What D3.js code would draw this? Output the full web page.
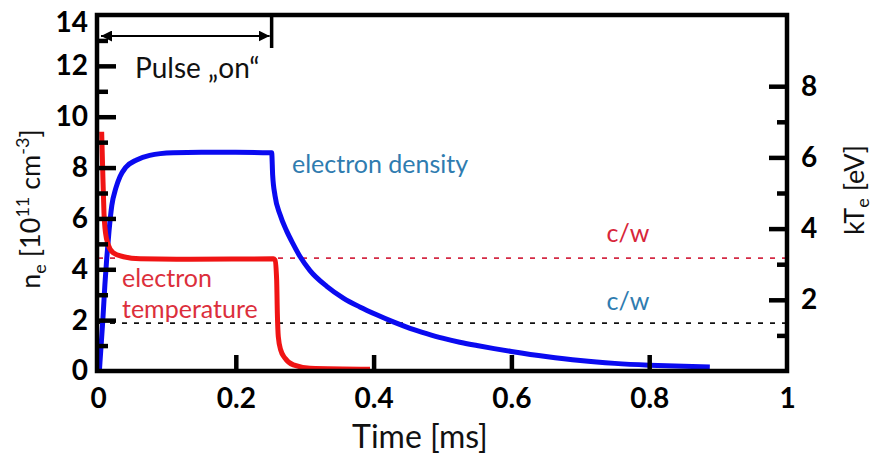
<!DOCTYPE html>
<html><head><meta charset="utf-8">
<script src="https://cdn.jsdelivr.net/npm/d3@7"></script>
<style>
html,body{margin:0;padding:0;background:#fff;}
svg{display:block;font-family:Lato,"Open Sans",sans-serif;}
</style></head>
<body>
<svg id="chart" width="877" height="459"></svg>
<script>
// ---- data ----
const densityTime = [0.002,0.004,0.007,0.010,0.0126,0.016,0.020,0.026,0.032,0.040,0.056,0.075,0.109,0.15,0.2,0.2521,0.2535,0.2569,0.2642,0.2739,0.2835,0.2932,0.3077,0.332,0.356,0.380,0.4045,0.4286,0.4528,0.477,0.5,0.525,0.55,0.575,0.6,0.65,0.7,0.75,0.8,0.85,0.888];
const densityValues = [0.0,0.8,2.0,3.4,4.4,5.5,6.5,7.2,7.65,8.0,8.3,8.48,8.58,8.6,8.6,8.58,7.7,6.9,6.15,5.5,4.98,4.5,3.95,3.33,2.87,2.52,2.21,1.93,1.68,1.47,1.29,1.13,1.0,0.88,0.77,0.57,0.41,0.3,0.23,0.185,0.16];
const tempTime = [0.0053,0.0068,0.0087,0.011,0.015,0.022,0.037,0.061,0.134,0.2545,0.2569,0.2593,0.2603,0.2617,0.2652,0.2714,0.2835,0.3077,0.3948];
const tempValues = [6.72,5.65,4.43,3.87,3.54,3.32,3.21,3.15,3.14,3.15,3.12,2.56,1.62,0.96,0.59,0.36,0.17,0.08,0.05];
const cwTemperature = 3.17;   // eV (right axis)
const cwDensity = 1.88;       // 1e11 cm^-3 (left axis)
const pulseOn = [0, 0.252];
const xTicks = [0,0.2,0.4,0.6,0.8,1];
const xTickLabels = ["0","0.2","0.4","0.6","0.8","1"];
const leftTicks = [0,2,4,6,8,10,12,14];
const leftMinor = [1,3,5,7,9,11,13];
const rightTicks = [2,4,6,8];
const rightMinor = [1,3,5,7];

// ---- layout ----
const svg = d3.select("#chart");
const L = 98, R = 787, T = 15, B = 371;
const x = d3.scaleLinear().domain([0,1]).range([L,R]);
const yL = d3.scaleLinear().domain([0,14]).range([B,T]);
const yR = d3.scaleLinear().domain([0,10]).range([B,T]);

const blue = "#0a0af0", red = "#f01414";

// dashed c/w lines
svg.append("line").attr("x1",L).attr("x2",R).attr("y1",yR(cwTemperature)).attr("y2",yR(cwTemperature))
  .attr("stroke","#d42a44").attr("stroke-width",1.8).attr("stroke-dasharray","5,7");
svg.append("line").attr("x1",L).attr("x2",R).attr("y1",yL(cwDensity)).attr("y2",yL(cwDensity))
  .attr("stroke","#111").attr("stroke-width",1.8).attr("stroke-dasharray","5,7");

// curves
const lineD = d3.line().x((d,i)=>x(densityTime[i])).y(d=>yL(d)).curve(d3.curveMonotoneX);
const lineT = d3.line().x((d,i)=>x(tempTime[i])).y(d=>yR(d)).curve(d3.curveMonotoneX);
svg.append("path").attr("d",lineD(densityValues)).attr("fill","none").attr("stroke",blue).attr("stroke-width",5).attr("stroke-linejoin","round");
svg.append("path").attr("d",lineT(tempValues)).attr("fill","none").attr("stroke",red).attr("stroke-width",5).attr("stroke-linejoin","round");

// axes (ticks inward)
const tickFont = "700 28px Lato, 'Open Sans', sans-serif";
const gL = svg.append("g").attr("transform",`translate(${L},0)`)
  .call(d3.axisRight(yL).tickValues(leftTicks).tickSize(18).tickFormat(d3.format("d")));
gL.selectAll(".tick line").attr("stroke","#000").attr("stroke-width",4.5);
gL.selectAll(".tick text").attr("x",-10).attr("text-anchor","end").style("font",tickFont).attr("fill","#000");
gL.selectAll(".tick").filter(d=>d===14).select("text").attr("dy","0.6em");
gL.selectAll(".tick").filter(d=>d===0||d===14).select("line").remove();
gL.select(".domain").remove();
const gLm = svg.append("g").attr("transform",`translate(${L},0)`)
  .call(d3.axisRight(yL).tickValues(leftMinor).tickSize(10).tickFormat(""));
gLm.selectAll(".tick line").attr("stroke","#000").attr("stroke-width",4.5);
gLm.select(".domain").remove();

const gR = svg.append("g").attr("transform",`translate(${R},0)`)
  .call(d3.axisLeft(yR).tickValues(rightTicks).tickSize(18).tickFormat(d3.format("d")));
gR.selectAll(".tick line").attr("stroke","#000").attr("stroke-width",4.5);
gR.selectAll(".tick text").attr("x",14).attr("text-anchor","start").style("font",tickFont).attr("fill","#000");
gR.select(".domain").remove();
const gRm = svg.append("g").attr("transform",`translate(${R},0)`)
  .call(d3.axisLeft(yR).tickValues(rightMinor).tickSize(10).tickFormat(""));
gRm.selectAll(".tick line").attr("stroke","#000").attr("stroke-width",4.5);
gRm.select(".domain").remove();

const gX = svg.append("g").attr("transform",`translate(0,${B})`)
  .call(d3.axisTop(x).tickValues(xTicks).tickSize(16).tickFormat((d,i)=>xTickLabels[i]));
gX.selectAll(".tick line").attr("stroke","#000").attr("stroke-width",4.5);
gX.selectAll(".tick").filter(d=>d===0||d===1).select("line").remove();
gX.selectAll(".tick text").attr("y",37).attr("dy",0).style("font",tickFont).attr("fill","#000");
gX.select(".domain").remove();

// frame
svg.append("rect").attr("x",L-1).attr("y",T).attr("width",R-L+1).attr("height",B-T)
  .attr("fill","none").attr("stroke","#000").attr("stroke-width",4.5);

// pulse annotation
const defs = svg.append("defs");
defs.append("marker").attr("id","ah").attr("viewBox","0 0 10 10").attr("refX",10).attr("refY",5)
  .attr("markerWidth",5).attr("markerHeight",5).attr("orient","auto-start-reverse")
  .append("path").attr("d","M0,0 L10,5 L0,10 z").attr("fill","#000");
svg.append("line").attr("x1",x(pulseOn[0])+3).attr("x2",x(pulseOn[1])-2).attr("y1",36).attr("y2",36)
  .attr("stroke","#000").attr("stroke-width",2.2).attr("marker-start","url(#ah)").attr("marker-end","url(#ah)");
svg.append("line").attr("x1",x(pulseOn[1])).attr("x2",x(pulseOn[1])).attr("y1",T).attr("y2",48)
  .attr("stroke","#000").attr("stroke-width",3.5);
svg.append("text").attr("x",135).attr("y",78).style("font","400 28px Lato, 'Open Sans', sans-serif").attr("fill","#111")
  .text("Pulse \u201Eon\u201C");

// series labels
const lab = "400 25px Lato, 'Open Sans', sans-serif";
svg.append("text").attr("x",292).attr("y",173).style("font",lab).attr("fill","#2f7cb0").text("electron density");
svg.append("text").attr("x",122).attr("y",287).style("font",lab).attr("fill","#dc2f3c").text("electron");
svg.append("text").attr("x",122).attr("y",318).style("font",lab).attr("fill","#dc2f3c").text("temperature");
svg.append("text").attr("x",628).attr("y",242).attr("text-anchor","middle").style("font",lab).attr("fill","#d8263a").text("c/w");
svg.append("text").attr("x",628).attr("y",310).attr("text-anchor","middle").style("font",lab).attr("fill","#2f7cb0").text("c/w");

// axis titles
const titleFont = "400 27px Lato, 'Open Sans', sans-serif";
svg.append("text").attr("x",420).attr("y",448).attr("text-anchor","middle")
  .style("font","400 32px Lato, 'Open Sans', sans-serif").attr("fill","#111").text("Time [ms]");
const yt = svg.append("text").attr("transform","translate(40,209) rotate(-90)").attr("text-anchor","middle")
  .style("font",titleFont).attr("fill","#111");
yt.append("tspan").text("n");
yt.append("tspan").attr("dy",6).style("font-size","18px").text("e");
yt.append("tspan").attr("dy",-6).text(" [10");
yt.append("tspan").attr("dy",-11).style("font-size","18px").text("11");
yt.append("tspan").attr("dy",11).text(" cm");
yt.append("tspan").attr("dy",-11).style("font-size","18px").text("-3");
yt.append("tspan").attr("dy",11).text("]");
const rt = svg.append("text").attr("transform","translate(864,190) rotate(-90)").attr("text-anchor","middle")
  .style("font",titleFont).attr("fill","#111");
rt.append("tspan").text("kT");
rt.append("tspan").attr("dy",5).style("font-size","18px").text("e");
rt.append("tspan").attr("dy",-5).text(" [eV]");
</script>
</body></html>
